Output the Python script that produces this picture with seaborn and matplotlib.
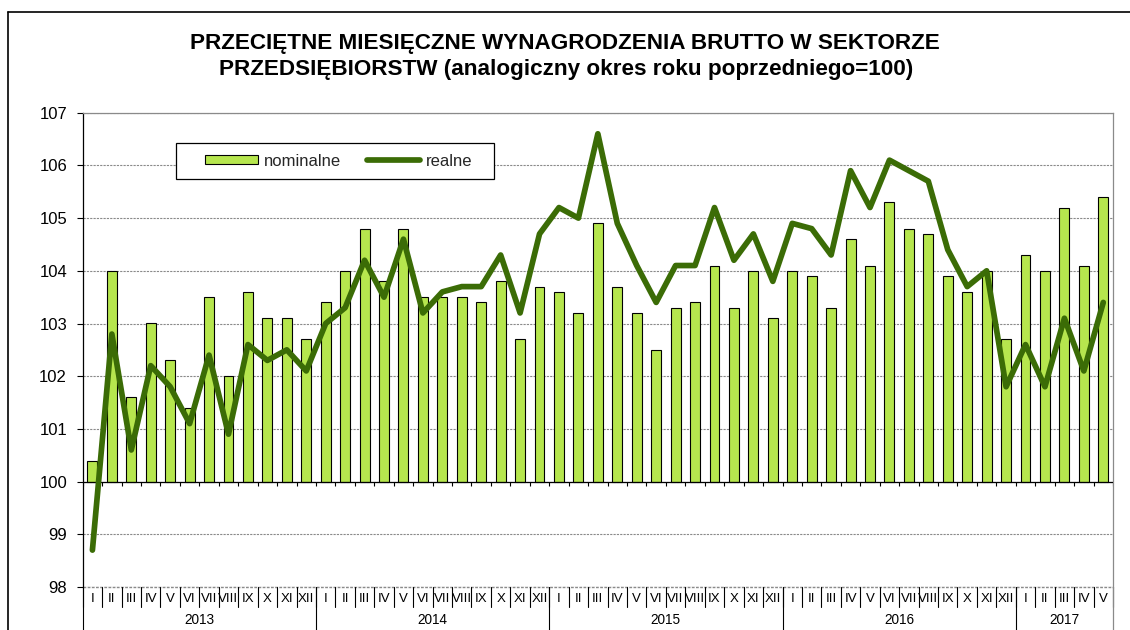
import numpy as np
import pandas as pd
import matplotlib
matplotlib.use("Agg")
import matplotlib.pyplot as plt
import matplotlib.transforms as mtransforms
from matplotlib.lines import Line2D
from matplotlib.patches import Rectangle
import seaborn as sns

# ---------------- data ----------------
years = ["2013", "2014", "2015", "2016", "2017"]
months_per_year = [12, 12, 12, 12, 5]
month_names = ["I", "II", "III", "IV", "V", "VI", "VII", "VIII", "IX", "X", "XI", "XII"]

nominal = [
    100.4, 104.0, 101.6, 103.0, 102.3, 101.4, 103.5, 102.0, 103.6, 103.1, 103.1, 102.7,  # 2013
    103.4, 104.0, 104.8, 103.8, 104.8, 103.5, 103.5, 103.5, 103.4, 103.8, 102.7, 103.7,  # 2014
    103.6, 103.2, 104.9, 103.7, 103.2, 102.5, 103.3, 103.4, 104.1, 103.3, 104.0, 103.1,  # 2015
    104.0, 103.9, 103.3, 104.6, 104.1, 105.3, 104.8, 104.7, 103.9, 103.6, 104.0, 102.7,  # 2016
    104.3, 104.0, 105.2, 104.1, 105.4,                                                  # 2017
]
real = [
    98.7, 102.8, 100.6, 102.2, 101.8, 101.1, 102.4, 100.9, 102.6, 102.3, 102.5, 102.1,   # 2013
    103.0, 103.3, 104.2, 103.5, 104.6, 103.2, 103.6, 103.7, 103.7, 104.3, 103.2, 104.7,  # 2014
    105.2, 105.0, 106.6, 104.9, 104.1, 103.4, 104.1, 104.1, 105.2, 104.2, 104.7, 103.8,  # 2015
    104.9, 104.8, 104.3, 105.9, 105.2, 106.1, 105.9, 105.7, 104.4, 103.7, 104.0, 101.8,  # 2016
    102.6, 101.8, 103.1, 102.1, 103.4,                                                  # 2017
]
base_value = 100
y_ticks = list(range(98, 108))

title_line1 = "PRZECIĘTNE MIESIĘCZNE WYNAGRODZENIA BRUTTO W SEKTORZE"
title_line2 = "PRZEDSIĘBIORSTW (analogiczny okres roku poprzedniego=100)"

month_labels = [m for n in months_per_year for m in month_names[:n]]
df = pd.DataFrame({
    "pos": np.arange(len(nominal)),
    "month": month_labels,
    "nominalne": nominal,
    "realne": real,
})
df["above_base"] = df["nominalne"] - base_value

# ---------------- style ----------------
sns.set_theme(style="white")
plt.rcParams["font.family"] = ["Liberation Sans", "DejaVu Sans"]

BAR_COLOR = "#b6e64e"
LINE_COLOR = "#3b6c06"
GRID_COLOR = "#8a8a8a"

W, H = 1130, 630
fig = plt.figure(figsize=(W / 100, H / 100), dpi=100)
fig.patch.set_facecolor("white")

ax_l, ax_r, ax_t, ax_b = 82.7, 1113.0, 112.7, 587.0
ax = fig.add_axes([ax_l / W, 1 - ax_b / H, (ax_r - ax_l) / W, (ax_b - ax_t) / H])
ax.set_facecolor("white")

# bars (from base 100)
sns.barplot(data=df, x="pos", y="above_base", native_scale=True, width=0.51,
            bottom=base_value, color=BAR_COLOR, saturation=1, edgecolor="black",
            linewidth=0.8, errorbar=None, label="nominalne", ax=ax, zorder=2)

# line
sns.lineplot(data=df, x="pos", y="realne", color=LINE_COLOR, linewidth=4.1,
             label="realne", ax=ax, zorder=4, solid_joinstyle="round",
             solid_capstyle="round")

n = len(df)
ax.set_xlim(-0.5, n - 0.5)
ax.set_ylim(y_ticks[0], y_ticks[-1])
ax.set_yticks(y_ticks)
ax.set_yticklabels([str(v) for v in y_ticks])
ax.set_xticks([])
ax.set_xlabel("")
ax.set_ylabel("")

# grid
GRID_LS = (0, (2.0, 1.0))
ax.yaxis.grid(True, color=GRID_COLOR, linestyle=GRID_LS, linewidth=0.8)
ax.set_axisbelow(True)
ax.axhline(y_ticks[0], color=GRID_COLOR, linestyle=GRID_LS, linewidth=1.0,
           clip_on=False, zorder=1)

# spines
ax.spines["left"].set_color("black")
ax.spines["left"].set_linewidth(0.9)
for s in ("top", "right"):
    ax.spines[s].set_color(GRID_COLOR)
    ax.spines[s].set_linewidth(0.9)
ax.spines["bottom"].set_visible(False)

ax.tick_params(axis="y", left=True, direction="out", length=4.3, width=0.8,
               color="black", pad=7, labelsize=12, labelcolor="black")

# category axis crossing at 100
ax.axhline(base_value, color="black", linewidth=0.9, zorder=3)
bounds = np.arange(n + 1) - 0.5
ax.vlines(bounds, base_value - 0.075, base_value, color="black", linewidth=0.8, zorder=3)

# category labels table below the plot
trans = mtransforms.blended_transform_factory(ax.transData, ax.transAxes)
ph = ax_b - ax_t
month_sep = -(607 - 587) / ph
for b in bounds:
    ax.plot([b, b], [0, month_sep], transform=trans, color="black", lw=0.8, clip_on=False)
for _, row in df.iterrows():
    ax.text(row["pos"], -(598.5 - 587) / ph, row["month"], transform=trans,
            ha="center", va="center", fontsize=9.5, color="black")

start = 0
for yr, cnt in zip(years, months_per_year):
    left, right = start - 0.5, start + cnt - 0.5
    ax.plot([left, left], [0, -0.2], transform=trans, color="black", lw=0.8, clip_on=False)
    ax.text((left + right) / 2, -(620 - 587) / ph, yr, transform=trans,
            ha="center", va="center", fontsize=9.8, color="black")
    start += cnt
ax.plot([n - 0.5, n - 0.5], [0, -0.2], transform=trans, color=GRID_COLOR, lw=0.9, clip_on=False)

# legend (entries without frame, frame drawn as a separate box behind them)
handles, labels = ax.get_legend_handles_labels()
order = [labels.index("nominalne"), labels.index("realne")]
handles = [handles[i] for i in order]
labels = [labels[i] for i in order]
leg_x0, leg_x1, leg_y0, leg_y1 = 176, 494, 143, 179
leg = ax.legend(handles, labels, loc="center left",
                bbox_to_anchor=((205 - ax_l) / (ax_r - ax_l),
                                (ax_b - (leg_y0 + leg_y1) / 2) / ph),
                borderaxespad=0, borderpad=0, ncol=2, frameon=False,
                fontsize=12, handlelength=3.2, handleheight=0.5, handletextpad=0.35,
                columnspacing=1.55)
leg.set_zorder(6)
ax.add_patch(Rectangle((leg_x0 / W, 1 - leg_y1 / H), (leg_x1 - leg_x0) / W,
                       (leg_y1 - leg_y0) / H, transform=fig.transFigure,
                       facecolor="white", edgecolor="black", linewidth=0.9,
                       zorder=5, clip_on=False))

# title
fig.text(565 / W, 1 - 49 / H, title_line1, ha="center", va="baseline",
         fontsize=16.2, fontweight="bold", color="black")
fig.text(566 / W, 1 - 75.5 / H, title_line2, ha="center", va="baseline",
         fontsize=16.2, fontweight="bold", color="black")

# outer frame
fig.add_artist(Line2D([8 / W, 1], [1 - 12 / H, 1 - 12 / H], color="black", lw=1.2))
fig.add_artist(Line2D([8 / W, 8 / W], [0, 1 - 12 / H], color="black", lw=1.2))

fig.savefig("out.png", dpi=100, facecolor="white")
